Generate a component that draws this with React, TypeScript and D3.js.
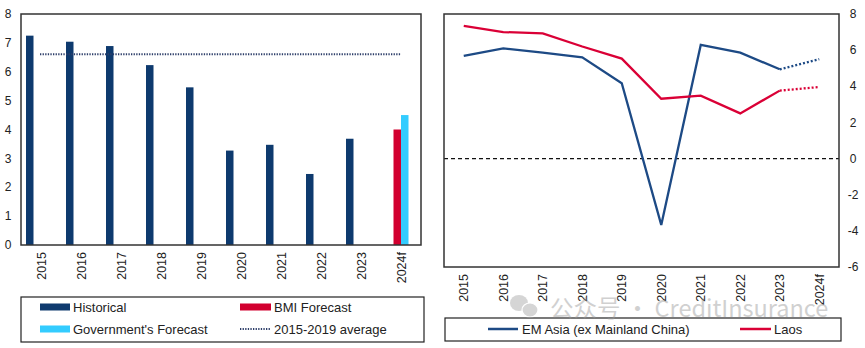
import React from "react";
import * as d3 from "d3";

const categories = ["2015", "2016", "2017", "2018", "2019", "2020", "2021", "2022", "2023", "2024f"];
const historical = [7.25, 7.04, 6.89, 6.23, 5.46, 3.27, 3.47, 2.46, 3.68, null];
const bmiForecast = [null, null, null, null, null, null, null, null, null, 4.0];
const govForecast = [null, null, null, null, null, null, null, null, null, 4.5];
const average2015to2019 = 6.61;
const leftTicks = [0, 1, 2, 3, 4, 5, 6, 7, 8];

const emAsia = [5.68, 6.1, 5.86, 5.6, 4.17, -3.67, 6.29, 5.86, 4.94, 5.5];
const laos = [7.34, 7.0, 6.93, 6.2, 5.53, 3.31, 3.48, 2.5, 3.76, 3.96];
const rightTicks = [-6, -4, -2, 0, 2, 4, 6, 8];

const NAVY = "#0E3A6E";
const RED = "#D2002F";
const CYAN = "#33CCFF";
const LBLUE = "#1D4A85";
const LRED = "#DA0036";
const FONT = "Arial, 'Liberation Sans', sans-serif";

export default function App() {
  // Left panel
  const L = { x0: 21, x1: 421, y0: 14, y1: 245 };
  const xL = d3.scaleBand<string>().domain(categories).range([L.x0, L.x1]);
  const yL = d3.scaleLinear().domain([0, 8]).range([L.y1, L.y0]);
  const bw = 7.5;
  const series = [
    { vals: historical, color: NAVY, off: -1.5 },
    { vals: bmiForecast, color: RED, off: -0.5 },
    { vals: govForecast, color: CYAN, off: 0.5 },
  ];

  // Right panel
  const R = { x0: 444, x1: 839, y0: 14, y1: 267 };
  const xR = d3.scalePoint<string>().domain(categories).range([R.x0, R.x1]).padding(0.5);
  const yR = d3.scaleLinear().domain([-6, 8]).range([R.y1, R.y0]);
  const line = d3
    .line<number>()
    .x((_, i) => xR(categories[i]) as number)
    .y((d) => yR(d));

  const solidPart = (arr: number[]) => arr.slice(0, 9);
  const dotPart = (arr: number[]) => arr.slice(8);
  const dotLine = d3
    .line<number>()
    .x((_, i) => xR(categories[i + 8]) as number)
    .y((d) => yR(d));

  return (
    <svg width={865} height={348} style={{ position: "absolute", left: 0, top: 0 }} fontFamily={FONT}>
      <rect width={865} height={348} fill="#fff" />
      {/* LEFT PANEL */}
      {leftTicks.map((t) => (
        <text key={t} x={8} y={yL(t)} dy="0.35em" fontSize={12} textAnchor="middle" fill="#222">
          {t}
        </text>
      ))}
      {series.map((s, si) =>
        s.vals.map((v, i) =>
          v == null ? null : (
            <rect
              key={`${si}-${i}`}
              x={(xL(categories[i]) as number) + xL.bandwidth() / 2 + s.off * bw - bw / 2}
              y={yL(v)}
              width={bw}
              height={yL(0) - yL(v)}
              fill={s.color}
            />
          )
        )
      )}
      <line
        x1={(xL(categories[0]) as number) + xL.bandwidth() / 2 - 1}
        x2={(xL(categories[9]) as number) + xL.bandwidth() / 2}
        y1={yL(average2015to2019)}
        y2={yL(average2015to2019)}
        stroke="#2E3F6A"
        strokeWidth={2}
        strokeDasharray="1.3 1.3"
      />
      <rect x={L.x0} y={L.y0} width={L.x1 - L.x0} height={L.y1 - L.y0} fill="none" stroke="#333" strokeWidth={1.5} />
      {categories.map((c) => (
        <text
          key={c}
          transform={`translate(${(xL(c) as number) + xL.bandwidth() / 2 + 4.5},${L.y1 + 7}) rotate(-90)`}
          fontSize={12.5}
          textAnchor="end"
          fill="#222"
        >
          {c}
        </text>
      ))}
      {/* Left legend */}
      <rect x={21} y={297} width={403} height={45} fill="none" stroke="#222" strokeWidth={1.2} />
      <rect x={40} y={303.5} width={30} height={7} fill={NAVY} />
      <text x={73} y={311.5} fontSize={13} fill="#222">Historical</text>
      <rect x={240} y={303.5} width={31} height={7} fill={RED} />
      <text x={274} y={311.5} fontSize={13} fill="#222">BMI Forecast</text>
      <rect x={40} y={325.5} width={30} height={7} fill={CYAN} />
      <text x={73} y={333.5} fontSize={13} fill="#222">Government's Forecast</text>
      <line x1={240} x2={270} y1={329} y2={329} stroke="#2E3F6A" strokeWidth={2} strokeDasharray="1.3 1.3" />
      <text x={274} y={333.5} fontSize={13} fill="#222">2015-2019 average</text>

      {/* RIGHT PANEL */}
      <line x1={R.x0} x2={R.x1} y1={yR(0)} y2={yR(0)} stroke="#111" strokeWidth={1.3} strokeDasharray="4 3" />
      <path d={line(solidPart(emAsia)) || ""} fill="none" stroke={LBLUE} strokeWidth={2.3} />
      <path d={dotLine(dotPart(emAsia)) || ""} fill="none" stroke={LBLUE} strokeWidth={2.3} strokeDasharray="2 2" />
      <path d={line(solidPart(laos)) || ""} fill="none" stroke={LRED} strokeWidth={2.3} />
      <path d={dotLine(dotPart(laos)) || ""} fill="none" stroke={LRED} strokeWidth={2.3} strokeDasharray="2 2" />
      <rect x={R.x0} y={R.y0} width={R.x1 - R.x0} height={R.y1 - R.y0} fill="none" stroke="#333" strokeWidth={1.5} />
      {rightTicks.map((t) => (
        <text key={t} x={853} y={yR(t)} dy="0.35em" fontSize={12} textAnchor="middle" fill="#222">
          {t}
        </text>
      ))}
      {categories.map((c) => (
        <text
          key={c}
          transform={`translate(${(xR(c) as number) + 4.5},${R.y1 + 7}) rotate(-90)`}
          fontSize={12.5}
          textAnchor="end"
          fill="#222"
        >
          {c}
        </text>
      ))}
      {/* Right legend */}
      <rect x={445} y={318} width={396} height={23} fill="none" stroke="#222" strokeWidth={1.2} />
      <line x1={488} x2={518} y1={329} y2={329} stroke={LBLUE} strokeWidth={2.5} />
      <text x={522} y={334} fontSize={13} fill="#222">EM Asia (ex Mainland China)</text>
      <line x1={740} x2={771} y1={329} y2={329} stroke={LRED} strokeWidth={2.5} />
      <text x={774} y={334} fontSize={13} fill="#222">Laos</text>

      {/* Watermark */}
      <g opacity={0.4} fill="#999">
        <ellipse cx={519} cy={303} rx={9} ry={8} />
        <ellipse cx={530} cy={310} rx={8} ry={7} stroke="#fff" strokeWidth={1.2} />
      </g>
      <text x={550} y={317} fontSize={23.5} fill="#999" opacity={0.45} fontFamily="'Noto Sans CJK SC', 'Noto Sans', sans-serif">
        公众号 · CreditInsurance
      </text>
    </svg>
  );
}
